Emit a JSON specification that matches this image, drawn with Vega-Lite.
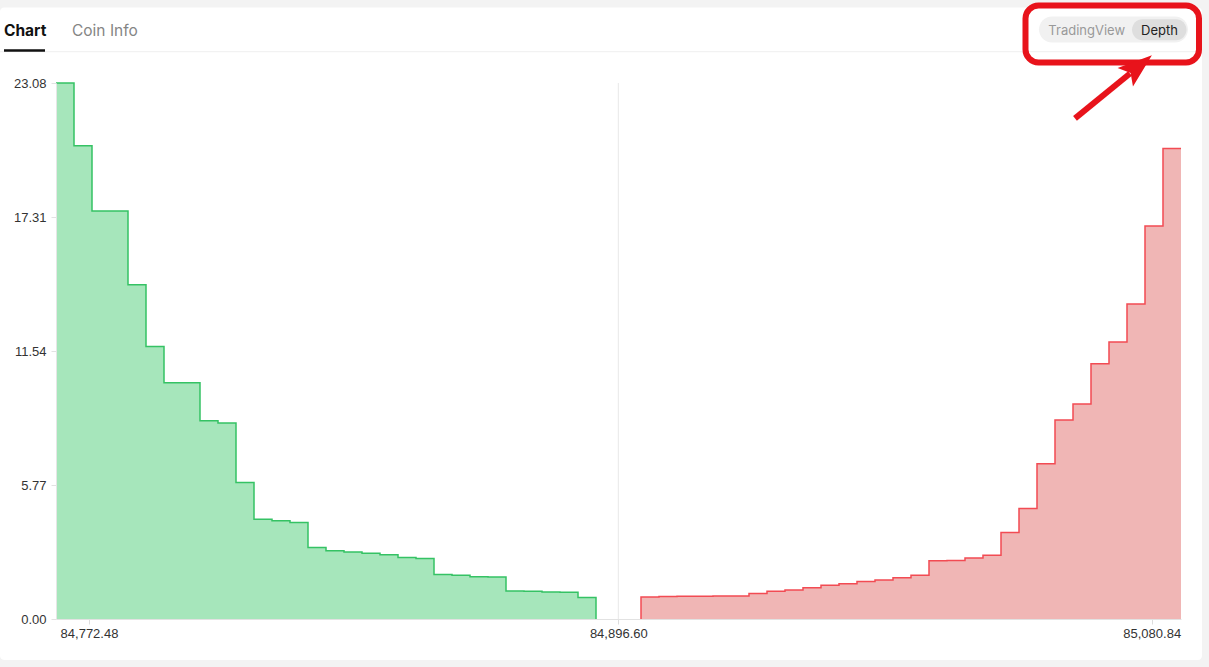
{
  "$schema": "https://vega.github.io/schema/vega-lite/v6.json",
  "width": 1125,
  "height": 536,
  "autosize": {"type": "none"},
  "padding": {"left": 56, "top": 83, "right": 28, "bottom": 48},
  "background": "#f3f3f3",
  "config": {"view": {"stroke": null}, "font": "Liberation Sans"},
  "datasets": {
    "bids": [
      {"price": 84764.742, "depth": 23.08},
      {"price": 84768.963, "depth": 20.38},
      {"price": 84773.184, "depth": 17.57},
      {"price": 84777.405, "depth": 17.57},
      {"price": 84781.626, "depth": 14.39},
      {"price": 84785.847, "depth": 11.73},
      {"price": 84790.068, "depth": 10.17},
      {"price": 84794.289, "depth": 10.17},
      {"price": 84798.510, "depth": 8.54},
      {"price": 84802.731, "depth": 8.44},
      {"price": 84806.952, "depth": 5.88},
      {"price": 84811.173, "depth": 4.29},
      {"price": 84815.394, "depth": 4.23},
      {"price": 84819.615, "depth": 4.15},
      {"price": 84823.836, "depth": 3.08},
      {"price": 84828.057, "depth": 2.94},
      {"price": 84832.278, "depth": 2.89},
      {"price": 84836.499, "depth": 2.83},
      {"price": 84840.720, "depth": 2.77},
      {"price": 84844.941, "depth": 2.65},
      {"price": 84849.162, "depth": 2.60},
      {"price": 84853.383, "depth": 1.92},
      {"price": 84857.604, "depth": 1.88},
      {"price": 84861.825, "depth": 1.82},
      {"price": 84866.046, "depth": 1.81},
      {"price": 84870.267, "depth": 1.21},
      {"price": 84874.488, "depth": 1.19},
      {"price": 84878.709, "depth": 1.16},
      {"price": 84882.930, "depth": 1.15},
      {"price": 84887.151, "depth": 0.93},
      {"price": 84891.372, "depth": 0}
    ],
    "asks": [
      {"price": 84904.441, "depth": 0},
      {"price": 84910.658, "depth": 0.95},
      {"price": 84916.875, "depth": 0.97},
      {"price": 84923.093, "depth": 0.975},
      {"price": 84929.310, "depth": 0.98},
      {"price": 84935.527, "depth": 0.99},
      {"price": 84941.744, "depth": 0.995},
      {"price": 84947.962, "depth": 1.10},
      {"price": 84954.179, "depth": 1.19},
      {"price": 84960.396, "depth": 1.25},
      {"price": 84966.614, "depth": 1.35},
      {"price": 84972.831, "depth": 1.45},
      {"price": 84979.048, "depth": 1.52},
      {"price": 84985.265, "depth": 1.62},
      {"price": 84991.483, "depth": 1.68},
      {"price": 84997.700, "depth": 1.78},
      {"price": 85003.917, "depth": 1.88},
      {"price": 85010.134, "depth": 2.51},
      {"price": 85016.352, "depth": 2.52},
      {"price": 85022.569, "depth": 2.63},
      {"price": 85028.786, "depth": 2.74},
      {"price": 85035.003, "depth": 3.73},
      {"price": 85041.221, "depth": 4.76},
      {"price": 85047.438, "depth": 6.69},
      {"price": 85053.655, "depth": 8.57},
      {"price": 85059.872, "depth": 9.26},
      {"price": 85066.090, "depth": 10.99},
      {"price": 85072.307, "depth": 11.93},
      {"price": 85078.524, "depth": 13.56},
      {"price": 85084.741, "depth": 16.92},
      {"price": 85090.959, "depth": 20.26}
    ]
  },
  "encoding": {
    "x": {
      "field": "price",
      "type": "quantitative",
      "scale": {"domain": [84764.742, 84896.6, 85090.961], "range": [0, 562.3, 1125], "nice": false, "zero": false},
      "axis": {
        "title": null,
        "values": [84772.48, 84896.6, 85080.84],
        "format": ",.2f",
        "grid": false,
        "tickSize": 5,
        "tickColor": "#dddddd",
        "domainColor": "#e2e2e2",
        "labelPadding": 3,
        "labelFontSize": 13,
        "labelColor": "#333333",
        "labelFlush": false,
        "labelOverlap": false,
        "zindex": 1
      }
    },
    "y": {
      "field": "depth",
      "type": "quantitative",
      "scale": {"domain": [0, 23.08], "nice": false, "zero": false},
      "axis": {
        "title": null,
        "values": [0, 5.77, 11.54, 17.31, 23.08],
        "format": ".2f",
        "grid": false,
        "tickSize": 5,
        "tickColor": "#e2e2e2",
        "domainColor": "#e6e6e6",
        "labelPadding": 5,
        "labelFontSize": 13,
        "labelColor": "#333333",
        "zindex": 1
      }
    }
  },
  "layer": [
    {
      "data": {"values": [{"price": 84751.61, "price2": 85098.214, "depth": 26.3305, "depth2": -1.7654}]},
      "mark": {"type": "rect", "fill": "#ffffff", "cornerRadius": 4},
      "encoding": {"x2": {"field": "price2"}, "y2": {"field": "depth2"}}
    },
    {
      "data": {"values": [{"price": 84751.61, "price2": 85098.214, "depth": 24.4274}]},
      "mark": {"type": "rule", "color": "#efefef", "strokeWidth": 1},
      "encoding": {"x2": {"field": "price2"}}
    },
    {
      "data": {"values": [{"price": 84896.6, "depth": 0, "depth2": 23.08}]},
      "mark": {"type": "rule", "color": "#e8e8e8", "strokeWidth": 1},
      "encoding": {"y2": {"field": "depth2"}}
    },
    {
      "data": {"name": "bids"},
      "mark": {"type": "area", "interpolate": "step-after", "color": "#a6e6bb", "opacity": 1}
    },
    {
      "data": {"name": "bids"},
      "mark": {"type": "line", "interpolate": "step-after", "color": "#35c264", "strokeWidth": 1.5}
    },
    {
      "data": {"name": "asks"},
      "mark": {"type": "area", "interpolate": "step-before", "color": "#f0b6b5", "opacity": 1}
    },
    {
      "data": {"name": "asks"},
      "mark": {"type": "line", "interpolate": "step-before", "color": "#f24b53", "strokeWidth": 1.5}
    },
    {
      "data": {"values": [{"price": 84752.548, "depth": 25.1033, "label": "Chart"}]},
      "mark": {"type": "text", "font": "Inter", "fontSize": 15.5, "fontWeight": "bold", "color": "#111111", "align": "left", "baseline": "alphabetic"},
      "encoding": {"text": {"field": "label"}}
    },
    {
      "data": {"values": [{"price": 84768.494, "depth": 25.1033, "label": "Coin Info"}]},
      "mark": {"type": "text", "font": "Inter", "fontSize": 15.5, "color": "#858585", "align": "left", "baseline": "alphabetic"},
      "encoding": {"text": {"field": "label"}}
    },
    {
      "data": {"values": [{"price": 84752.548, "price2": 84762.163, "depth": 24.5307, "depth2": 24.4274}]},
      "mark": {"type": "rect", "fill": "#111111"},
      "encoding": {"x2": {"field": "price2"}, "y2": {"field": "depth2"}}
    },
    {
      "data": {"values": [{"price": 85041.913, "price2": 85093.378, "depth": 25.943, "depth2": 24.8235}]},
      "mark": {"type": "rect", "fill": "#f1f1f1", "cornerRadius": 13},
      "encoding": {"x2": {"field": "price2"}, "y2": {"field": "depth2"}}
    },
    {
      "data": {"values": [{"price": 85074.036, "price2": 85092.86, "depth": 25.8225, "depth2": 24.9182}]},
      "mark": {"type": "rect", "fill": "#dedede", "cornerRadius": 10.5},
      "encoding": {"x2": {"field": "price2"}, "y2": {"field": "depth2"}}
    },
    {
      "data": {"values": [{"price": 85058.389, "depth": 25.1464, "label": "TradingView"}]},
      "mark": {"type": "text", "font": "Inter", "fontSize": 13, "color": "#999999", "align": "center", "baseline": "alphabetic"},
      "encoding": {"text": {"field": "label"}}
    },
    {
      "data": {"values": [{"price": 85083.534, "depth": 25.1464, "label": "Depth"}]},
      "mark": {"type": "text", "font": "Inter", "fontSize": 13, "color": "#222222", "align": "center", "baseline": "alphabetic"},
      "encoding": {"text": {"field": "label"}}
    },
    {
      "data": {"values": [{"price": 85037.25, "price2": 85097.178, "depth": 26.4166, "depth2": 23.9622}]},
      "mark": {"type": "rect", "fill": null, "stroke": "#e8131b", "strokeWidth": 6, "cornerRadius": 13},
      "encoding": {"x2": {"field": "price2"}, "y2": {"field": "depth2"}}
    },
    {
      "data": {"values": [{"price": 85054.347, "price2": 85073.345, "depth": 21.5596, "depth2": 23.4886}]},
      "mark": {"type": "rule", "color": "#e8131b", "strokeWidth": 6, "strokeCap": "butt"},
      "encoding": {"x2": {"field": "price2"}, "y2": {"field": "depth2"}}
    },
    {
      "data": {"values": [{"price": 85076.315, "depth": 23.7986}]},
      "mark": {"type": "point", "shape": "M0,-1L0.7,1L0,0.6L-0.7,1Z", "size": 1190, "angle": 50.5, "filled": true, "color": "#e8131b", "opacity": 1}
    }
  ]
}
